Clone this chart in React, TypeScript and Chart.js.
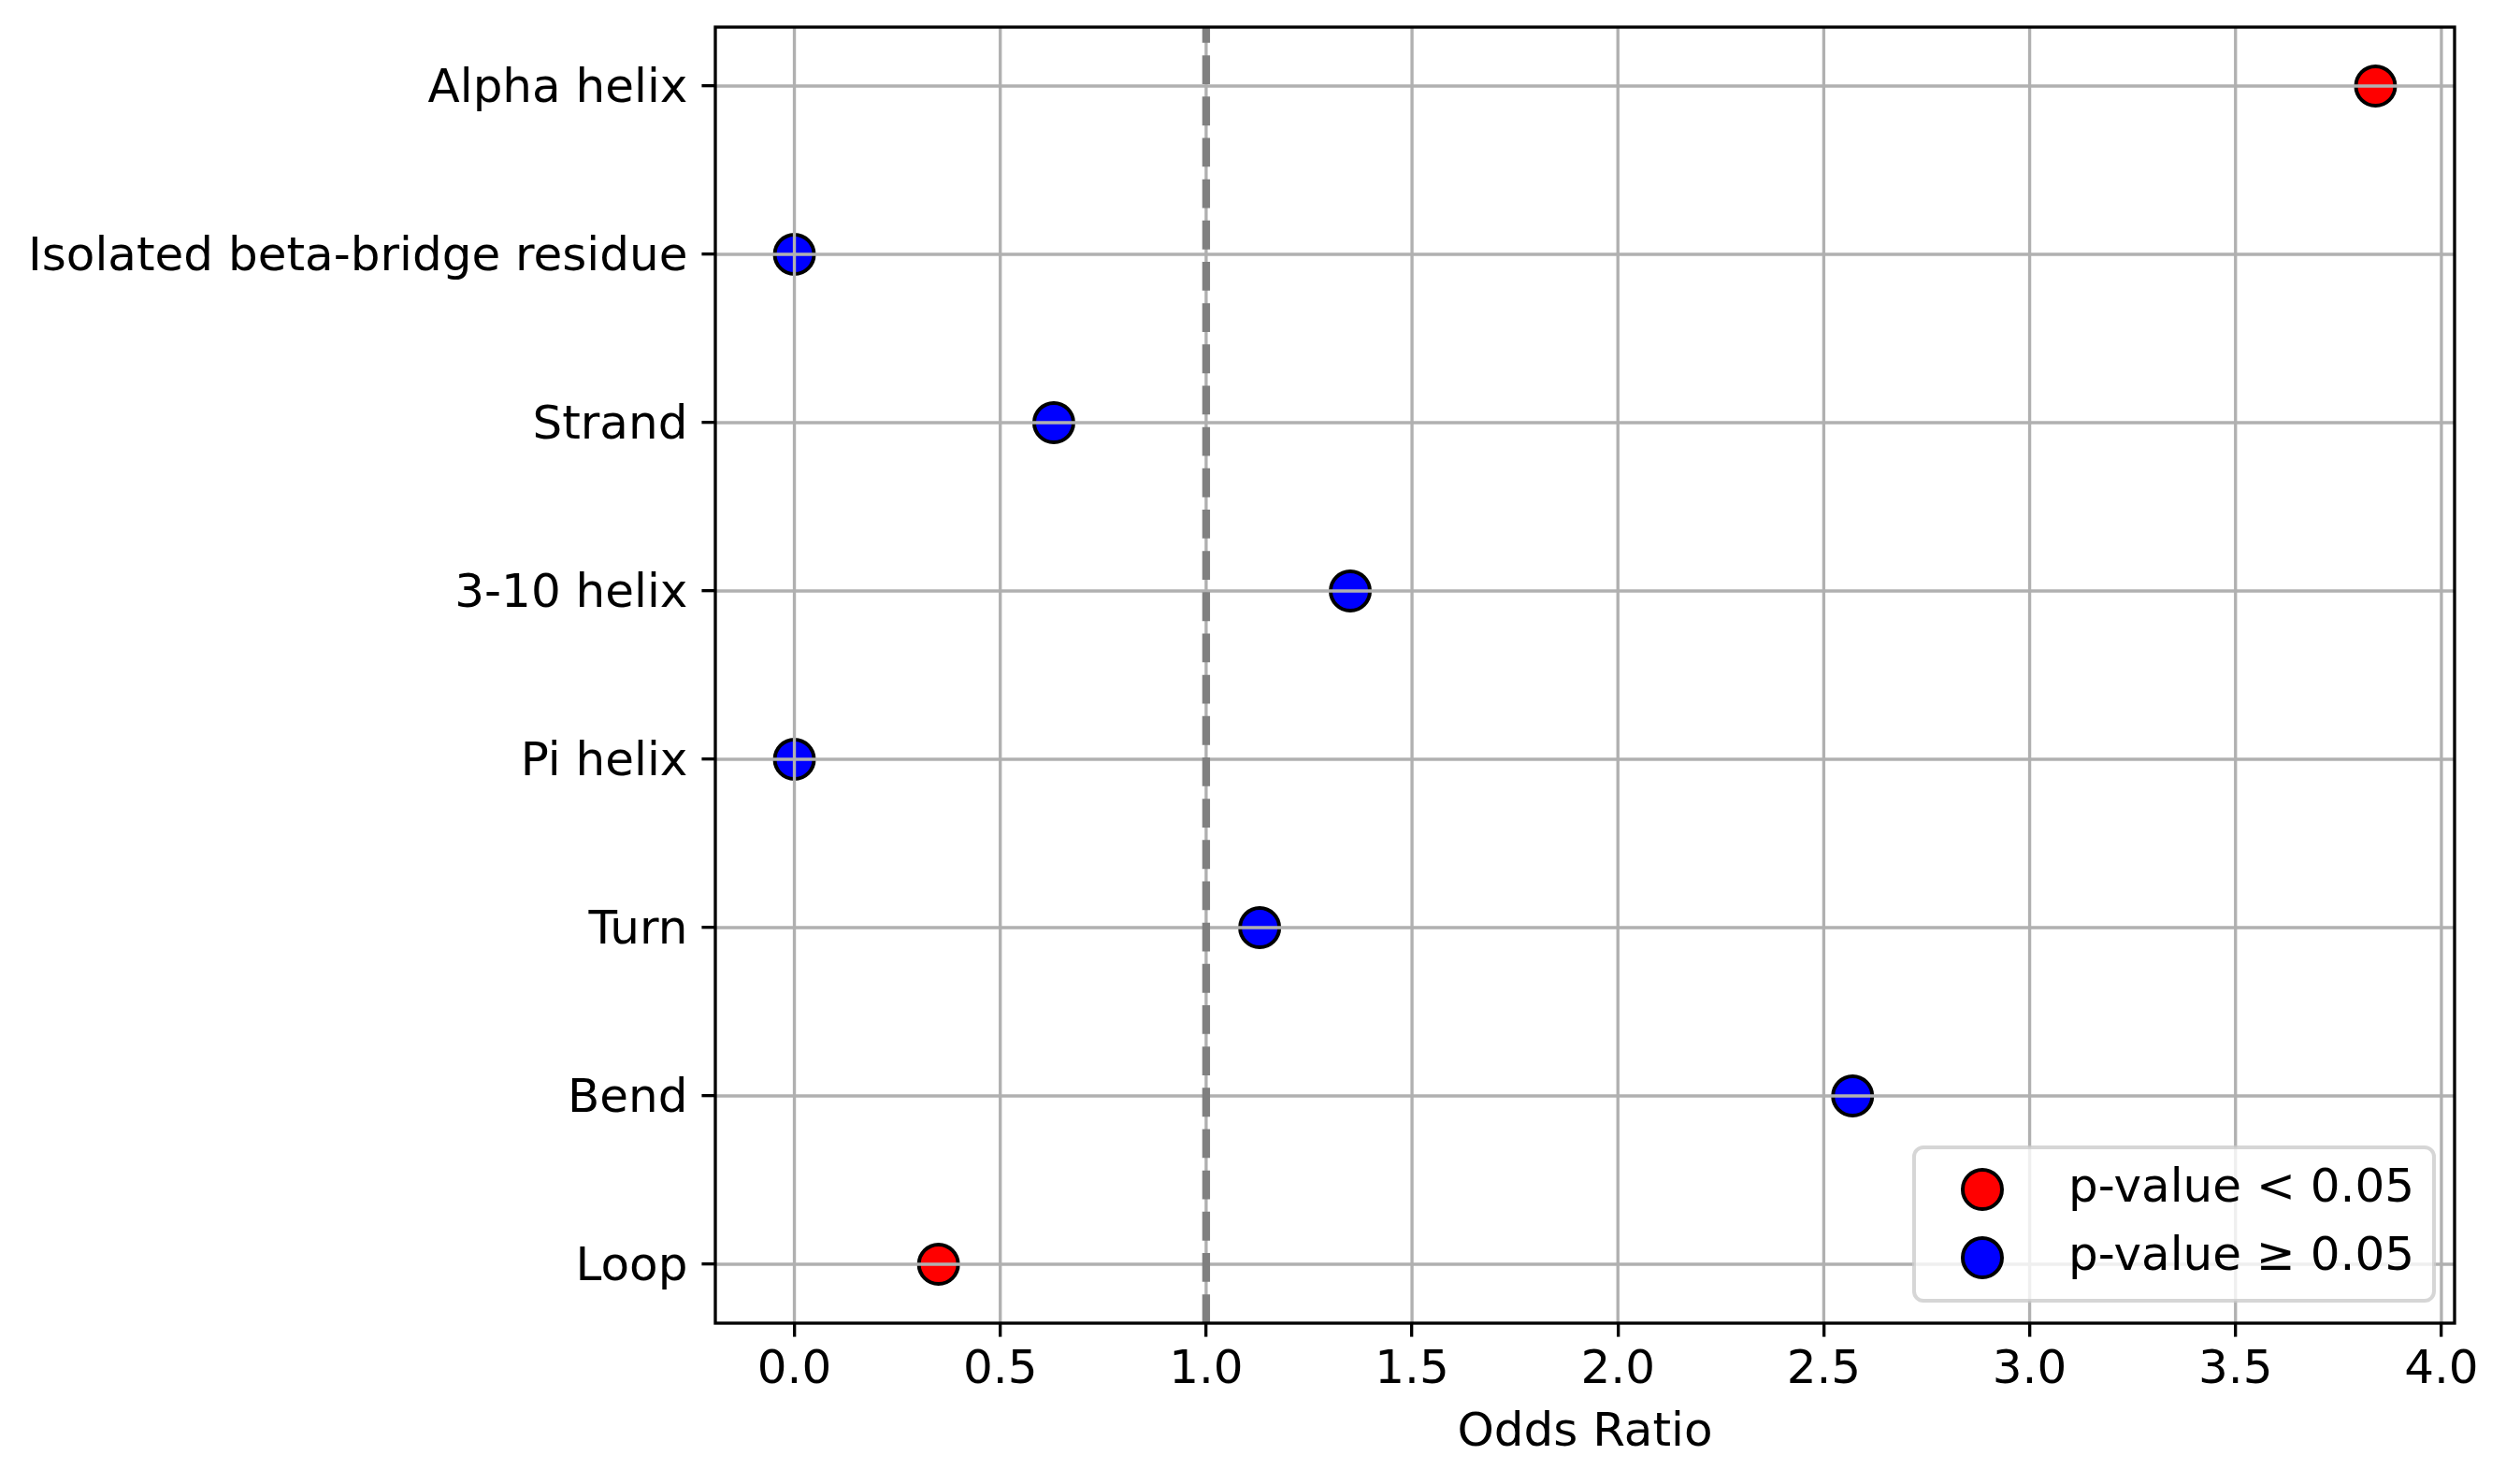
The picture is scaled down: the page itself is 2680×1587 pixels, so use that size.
import React, { useEffect, useRef } from 'react';
import { Chart, registerables, Plugin } from 'chart.js';

Chart.register(...registerables);

// data (bottom row is "Loop")
const categories = [
  'Alpha helix',
  'Isolated beta-bridge residue',
  'Strand',
  '3-10 helix',
  'Pi helix',
  'Turn',
  'Bend',
  'Loop',
];
const oddsRatios = [3.84, 0, 0.63, 1.35, 0, 1.13, 2.57, 0.35];
const significant = [true, false, false, false, false, false, false, true];
const xTickValues = [0, 0.5, 1, 1.5, 2, 2.5, 3, 3.5, 4];
const referenceLine = 1;
const sigLabel = 'p-value < 0.05';
const nonSigLabel = 'p-value \u2265 0.05';

const FONT = "'DejaVu Sans', 'Liberation Sans', sans-serif";
const PT = 300 / 72; // figure was saved at 300 dpi
const FONT_PX = 12 * PT;

const n = categories.length;
const yOf = (i: number) => n - 1 - i;

// matplotlib-like 5% margins
const xLo = Math.min(...oddsRatios);
const xHi = Math.max(...oddsRatios);
const xMin = xLo - 0.05 * (xHi - xLo);
const xMax = xHi + 0.05 * (xHi - xLo);
const yMin = -0.05 * (n - 1);
const yMax = n - 1 + 0.05 * (n - 1);

const points = (sig: boolean) =>
  oddsRatios
    .map((v, i) => ({ x: v, y: yOf(i), s: significant[i] }))
    .filter((p) => p.s === sig)
    .map(({ x, y }) => ({ x, y }));

// grid above the markers (matplotlib draws it over scatter), frame and boxed legend
const mplLook: Plugin<'scatter'> = {
  id: 'mplLook',
  beforeDatasetDraw(chart, args) {
    if (args.index !== 0) return;
    const { ctx, chartArea: a, scales } = chart;
    ctx.save();
    ctx.beginPath();
    ctx.rect(a.left, a.top, a.width, a.height);
    ctx.clip();
    ctx.strokeStyle = '#b0b0b0';
    ctx.lineWidth = 0.8 * PT;
    scales.x.ticks.forEach((t) => {
      const px = scales.x.getPixelForValue(t.value);
      ctx.beginPath();
      ctx.moveTo(px, a.top);
      ctx.lineTo(px, a.bottom);
      ctx.stroke();
    });
    scales.y.ticks.forEach((t) => {
      const py = scales.y.getPixelForValue(t.value);
      ctx.beginPath();
      ctx.moveTo(a.left, py);
      ctx.lineTo(a.right, py);
      ctx.stroke();
    });
    ctx.restore();
  },
  afterDraw(chart) {
    const { ctx, chartArea: a } = chart;
    ctx.save();
    ctx.strokeStyle = '#000';
    ctx.lineWidth = 0.8 * PT;
    ctx.strokeRect(a.left, a.top, a.width, a.height);

    const items = [chart.data.datasets[1], chart.data.datasets[2]];
    ctx.font = `${FONT_PX}px ${FONT}`;
    const textW = Math.max(...items.map((d) => ctx.measureText(String(d.label)).width));
    const boxW = 165 + textW + 21;
    const boxH = 164;
    const right = a.right - 22;
    const bottom = a.bottom - 24;
    const left = right - boxW;
    const top = bottom - boxH;
    ctx.beginPath();
    ctx.roundRect(left, top, boxW, boxH, 10);
    ctx.fillStyle = 'rgba(255,255,255,0.8)';
    ctx.fill();
    ctx.strokeStyle = 'rgba(204,204,204,0.8)';
    ctx.lineWidth = 4;
    ctx.stroke();
    items.forEach((d, i) => {
      const cy = top + 45 + i * 73;
      ctx.beginPath();
      ctx.arc(left + 73, cy, 21, 0, Math.PI * 2);
      ctx.fillStyle = String(d.backgroundColor);
      ctx.fill();
      ctx.strokeStyle = '#000';
      ctx.lineWidth = 4;
      ctx.stroke();
      ctx.fillStyle = '#000';
      ctx.textAlign = 'left';
      ctx.textBaseline = 'middle';
      ctx.fillText(String(d.label), left + 165, cy);
    });
    ctx.restore();
  },
};

const App: React.FC = () => {
  const canvasRef = useRef<HTMLCanvasElement>(null);
  const chartRef = useRef<Chart<'scatter'>>();

  useEffect(() => {
    if (!canvasRef.current) return;
    if (chartRef.current) chartRef.current.destroy();

    const tickFont = { family: FONT, size: FONT_PX, lineHeight: 1.2 };
    const gridOpts = {
      drawOnChartArea: false,
      drawTicks: true,
      tickLength: 3.5 * PT,
      tickColor: '#000',
      tickWidth: 0.8 * PT,
      lineWidth: 0.8 * PT,
    };

    chartRef.current = new Chart(canvasRef.current, {
      type: 'scatter',
      data: {
        datasets: [
          {
            label: 'OR = 1',
            data: [
              { x: referenceLine, y: yMin },
              { x: referenceLine, y: yMax },
            ],
            showLine: true,
            borderColor: '#808080',
            borderWidth: 2 * PT,
            borderDash: [7.4 * PT, 3.2 * PT],
            pointRadius: 0,
            order: 0,
          },
          {
            label: sigLabel,
            data: points(true),
            backgroundColor: '#ff0000',
            borderColor: '#000',
            borderWidth: 4,
            pointRadius: 21,
            pointHoverRadius: 21,
            order: 1,
          },
          {
            label: nonSigLabel,
            data: points(false),
            backgroundColor: '#0000ff',
            borderColor: '#000',
            borderWidth: 4,
            pointRadius: 21,
            pointHoverRadius: 21,
            order: 2,
          },
        ],
      },
      options: {
        animation: false,
        responsive: true,
        maintainAspectRatio: false,
        events: [],
        layout: { padding: { top: 29, right: 55, left: 0, bottom: 0 } },
        plugins: { legend: { display: false }, tooltip: { enabled: false } },
        scales: {
          x: {
            type: 'linear',
            min: xMin,
            max: xMax,
            afterBuildTicks: (s) => {
              s.ticks = xTickValues.map((value) => ({ value }));
            },
            afterFit: (s) => {
              s.height = 172;
              s.paddingLeft = 0;
              s.paddingRight = 0;
            },
            ticks: {
              callback: (v) => Number(v).toFixed(1),
              font: tickFont,
              color: '#000',
              padding: 6,
              autoSkip: false,
              maxRotation: 0,
            },
            grid: gridOpts,
            border: { display: false },
            title: {
              display: true,
              text: 'Odds Ratio',
              color: '#000',
              font: tickFont,
              padding: { top: 0, bottom: 24 },
            },
          },
          y: {
            type: 'linear',
            min: yMin,
            max: yMax,
            afterBuildTicks: (s) => {
              s.ticks = categories.map((_, i) => ({ value: i }));
            },
            afterFit: (s) => {
              s.width = 765;
              s.paddingTop = 0;
              s.paddingBottom = 0;
            },
            ticks: {
              callback: (v) => categories[n - 1 - Number(v)],
              font: { family: FONT, size: FONT_PX, lineHeight: 1 },
              color: '#000',
              padding: 15,
              labelOffset: 4,
              autoSkip: false,
            },
            grid: gridOpts,
            border: { display: false },
          },
        },
      },
      plugins: [mplLook],
    });

    return () => {
      if (chartRef.current) {
        chartRef.current.destroy();
        chartRef.current = undefined;
      }
    };
  }, []);

  return (
    <div style={{ position: 'fixed', left: 0, top: 0, width: 2680, height: 1587, background: '#fff' }}>
      <canvas ref={canvasRef} />
    </div>
  );
};

export default App;
